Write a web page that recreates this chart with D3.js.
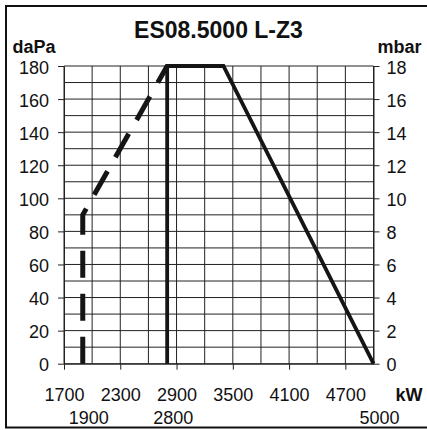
<!DOCTYPE html>
<html lang="en">
<head>
<meta charset="UTF-8">
<title>ES08.5000 L-Z3</title>
<style>
  body { margin: 0; background: #fff; }
  svg { display: block; }
  text { font-family: "Liberation Sans", Arial, sans-serif; fill: #111; }
  .grid line { stroke: #222; stroke-width: 1; shape-rendering: auto; }
  .axis path, .axis line { stroke: #222; stroke-width: 1; }
  .axis text { font-size: 18px; fill: #111; }
  .unit { font-size: 18px; font-weight: bold; }
</style>
</head>
<body>
<svg width="427" height="430"></svg>
<script src="https://d3js.org/d3.v7.min.js"></script>
<script>
// tick labels
const xTicksTop = [1700, 2300, 2900, 3500, 4100, 4700];
const xTicksBottom = [1900, 2800, 5000];
const yTicksLeft = [0, 20, 40, 60, 80, 100, 120, 140, 160, 180];
const yTicksRight = [0, 2, 4, 6, 8, 10, 12, 14, 16, 18];

// dashed curve (kW, daPa)
const dashedKW = [1900, 1900, 2800];
const dashedDaPa = [0, 90, 180];

// solid curve (kW, daPa)
const solidKW = [2800, 2800, 3400, 5000];
const solidDaPa = [0, 180, 180, 0];

const margin = { top: 66, right: 53.5, bottom: 66.3, left: 64 },
      width = 427 - margin.left - margin.right,
      height = 430 - margin.top - margin.bottom;

const svg = d3.select("svg");

// outer frame (right side falls outside the picture)
svg.append("rect")
    .attr("x", 6).attr("y", 6)
    .attr("width", 440).attr("height", 421.5)
    .attr("fill", "none")
    .attr("stroke", "#111")
    .attr("stroke-width", 2);

const g = svg.append("g")
    .attr("transform", "translate(" + margin.left + "," + margin.top + ")");

const x = d3.scaleLinear().domain([1700, 5000]).range([0, width]);
const y = d3.scaleLinear().domain([0, 180]).range([height, 0]);
const y2 = d3.scaleLinear().domain([0, 18]).range([height, 0]);

// grid
const grid = g.append("g").attr("class", "grid");
grid.selectAll("line.v")
  .data(d3.range(1700, 5001, 300))
  .join("line")
    .attr("class", "v")
    .attr("x1", d => x(d)).attr("x2", d => x(d))
    .attr("y1", 0).attr("y2", height);
grid.selectAll("line.h")
  .data(d3.range(0, 181, 10))
  .join("line")
    .attr("class", "h")
    .attr("x1", 0).attr("x2", width)
    .attr("y1", d => y(d)).attr("y2", d => y(d));

// axes
g.append("g")
    .attr("class", "axis")
    .call(d3.axisLeft(y).tickValues(yTicksLeft).tickSize(6).tickSizeOuter(0).tickPadding(9))
    .selectAll("text").attr("dy", "0.4em");

g.append("g")
    .attr("class", "axis")
    .attr("transform", "translate(" + width + ",0)")
    .call(d3.axisRight(y2).tickValues(yTicksRight).tickSize(6).tickSizeOuter(0).tickPadding(7))
    .selectAll("text").attr("dy", "0.4em");

g.append("g")
    .attr("class", "axis")
    .attr("transform", "translate(0," + height + ")")
    .call(d3.axisBottom(x).tickValues(xTicksTop).tickFormat(d3.format("d"))
      .tickSize(6).tickSizeOuter(0).tickPadding(18.5));

// second row of kW labels
g.append("g")
    .attr("class", "axis")
    .selectAll("text")
    .data(xTicksBottom)
    .join("text")
      .attr("x", d => x(d) + 6)
      .attr("y", height + 60.3)
      .attr("text-anchor", "middle")
      .text(d => d);

// curves
const line = d3.line().x(d => x(d[0])).y(d => y(d[1]));

g.append("path")
    .datum(dashedKW.map((k, i) => [k, dashedDaPa[i]]))
    .attr("d", line)
    .attr("fill", "none")
    .attr("stroke", "#151515")
    .attr("stroke-width", 5)
    .attr("stroke-dasharray", "27,16");

g.append("path")
    .datum(solidKW.map((k, i) => [k, solidDaPa[i]]))
    .attr("d", line)
    .attr("fill", "none")
    .attr("stroke", "#151515")
    .attr("stroke-width", 3.8)
    .attr("stroke-linejoin", "miter");

// titles and units
svg.append("text")
    .attr("x", 218.5).attr("y", 38.3)
    .attr("text-anchor", "middle")
    .attr("font-size", "23px")
    .attr("font-weight", "bold")
    .text("ES08.5000 L-Z3");

svg.append("text").attr("class", "unit")
    .attr("x", 12.5).attr("y", 53)
    .text("daPa");

svg.append("text").attr("class", "unit")
    .attr("x", 377.5).attr("y", 53)
    .text("mbar");

svg.append("text").attr("class", "unit")
    .attr("x", 395.5).attr("y", 400.5)
    .text("kW");
</script>
</body>
</html>
